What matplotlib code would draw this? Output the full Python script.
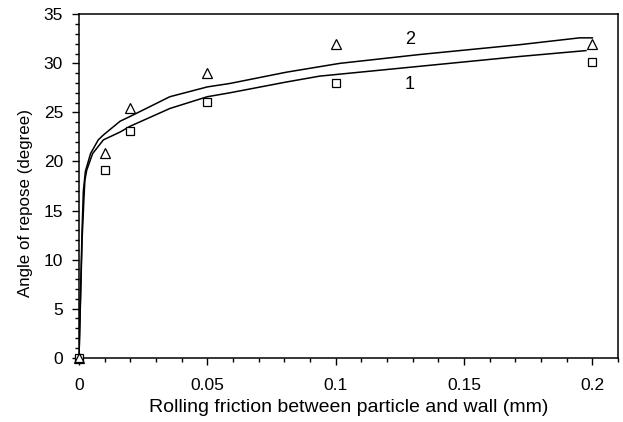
import matplotlib
matplotlib.use("Agg")
import matplotlib.pyplot as plt
from matplotlib.ticker import MultipleLocator, FuncFormatter

plt.rcParams['font.family'] = ['Liberation Sans', 'DejaVu Sans']

# Measured points
meas_x = [0, 0.01, 0.02, 0.05, 0.1, 0.2]
series1_y = [0, 19.1, 23.1, 26.1, 28.0, 30.1]   # squares
series2_y = [0, 20.9, 25.4, 29.0, 32.0, 32.0]   # triangles

# Fitted curves
curve1_x = [0, 0.0006, 0.0012, 0.0019, 0.0023, 0.003, 0.0053, 0.0095, 0.016, 0.02,
            0.0354, 0.05, 0.0588, 0.0808, 0.0938, 0.1016, 0.1327, 0.1716, 0.1975]
curve1_y = [0, 6.0, 12.0, 16.1, 18.1, 19.1, 20.8, 22.2, 23.0, 23.6,
            25.4, 26.6, 27.0, 28.1, 28.7, 28.9, 29.7, 30.7, 31.3]
curve2_x = [0, 0.0006, 0.0012, 0.0017, 0.0025, 0.0045, 0.0075, 0.0095, 0.016, 0.02,
            0.0354, 0.05, 0.0588, 0.0808, 0.1016, 0.1327, 0.1716, 0.195, 0.2]
curve2_y = [0, 6.5, 13.0, 17.0, 19.0, 20.8, 22.2, 22.7, 24.1, 24.6,
            26.6, 27.6, 27.95, 29.1, 30.0, 30.9, 31.9, 32.6, 32.6]

curve_labels = ["1", "2"]

fig = plt.figure(figsize=(6.23, 4.22), dpi=100)
ax = fig.add_axes([0.1268, 0.1524, 0.8652, 0.8137])

ax.plot(curve1_x, curve1_y, color='black', lw=1.1)
ax.plot(curve2_x, curve2_y, color='black', lw=1.1)
ax.plot(meas_x, series1_y, ls='none', marker='s', mfc='white', mec='black',
        mew=0.9, ms=6, clip_on=False, zorder=3)
ax.plot(meas_x, series2_y, ls='none', marker='^', mfc='none', mec='black',
        mew=0.9, ms=7, clip_on=False, zorder=4)

ax.text(0.129, 27.8, curve_labels[0], fontsize=13, ha='center', va='center')
ax.text(0.129, 32.4, curve_labels[1], fontsize=13, ha='center', va='center')

ax.set_xlim(0, 0.21)
ax.set_ylim(0, 35)
ax.xaxis.set_major_locator(MultipleLocator(0.05))
ax.xaxis.set_minor_locator(MultipleLocator(0.01))
ax.yaxis.set_major_locator(MultipleLocator(5))
ax.yaxis.set_minor_locator(MultipleLocator(1))

def fmt(v, pos):
    s = f"{v:.2f}".rstrip('0').rstrip('.')
    return s
ax.xaxis.set_major_formatter(FuncFormatter(fmt))

ax.tick_params(which='both', direction='out', top=False, right=False,
               labelsize=12.5, width=1.0)
ax.tick_params(which='major', length=5)
ax.tick_params(which='minor', length=3)
ax.tick_params(axis='x', which='major', pad=9.5)
ax.tick_params(axis='y', which='major', pad=6.5)
for sp in ax.spines.values():
    sp.set_linewidth(1.1)

ax.set_xlabel("Rolling friction between particle and wall (mm)", fontsize=14,
              labelpad=4.5)
ax.set_ylabel("Angle of repose (degree)", fontsize=12.2, labelpad=7)
ax.yaxis.set_label_coords(-0.085, 0.45)

fig.savefig("out.png", dpi=100)
